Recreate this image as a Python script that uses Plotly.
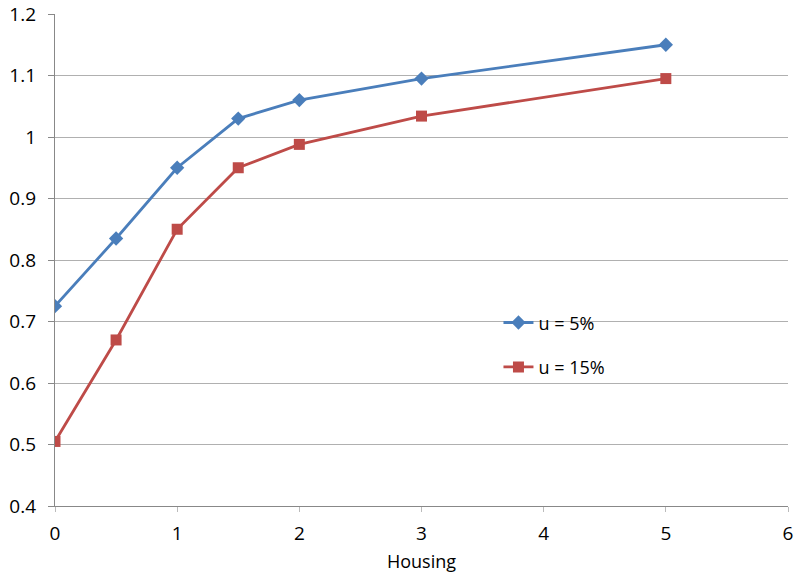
import plotly.graph_objects as go

housing = [0, 0.5, 1, 1.5, 2, 3, 5]
u5 = [0.725, 0.835, 0.95, 1.03, 1.06, 1.095, 1.15]
u15 = [0.505, 0.67, 0.85, 0.95, 0.988, 1.034, 1.095]

fig = go.Figure()
fig.add_trace(go.Scatter(
    x=housing, y=u5, name="u = 5%", mode="lines+markers", legendgroup="a",
    line=dict(color="#4A7EBB", width=2.8),
    marker=dict(symbol="diamond", size=11, color="#4A7EBB"),
))
fig.add_trace(go.Scatter(
    x=housing, y=u15, name="u = 15%", mode="lines+markers", legendgroup="b",
    line=dict(color="#BE4B48", width=2.8),
    marker=dict(symbol="square", size=11, color="#BE4B48"),
))

fig.update_layout(
    width=795, height=575,
    margin=dict(l=55, r=7, t=14, b=69),
    paper_bgcolor="white", plot_bgcolor="white",
    font=dict(family="Open Sans, Lato, sans-serif", size=19, color="black"),
    showlegend=True,
    legend=dict(x=0.605, y=0.41, xanchor="left", yanchor="top",
                bgcolor="rgba(0,0,0,0)", tracegroupgap=18, itemwidth=30,
                font=dict(size=18)),
    xaxis=dict(range=[0, 6], dtick=1, showgrid=False, zeroline=False,
               showline=True, linecolor="#888888", linewidth=1.3,
               ticks="outside", ticklen=5, tickcolor="#bbbbbb",
               ticklabelstandoff=5, automargin=False,
               title=dict(text="Housing", font=dict(size=18), standoff=10),
               fixedrange=True),
    yaxis=dict(range=[0.4, 1.2], dtick=0.1, showgrid=True, gridcolor="#b0b0b0",
               gridwidth=1, zeroline=False, showline=True, linecolor="#888888",
               linewidth=1.3, ticks="outside", ticklen=6, tickcolor="#888888",
               ticklabelstandoff=8, tickformat="~g", automargin=False,
               fixedrange=True),
)

fig.write_html("out.html")
